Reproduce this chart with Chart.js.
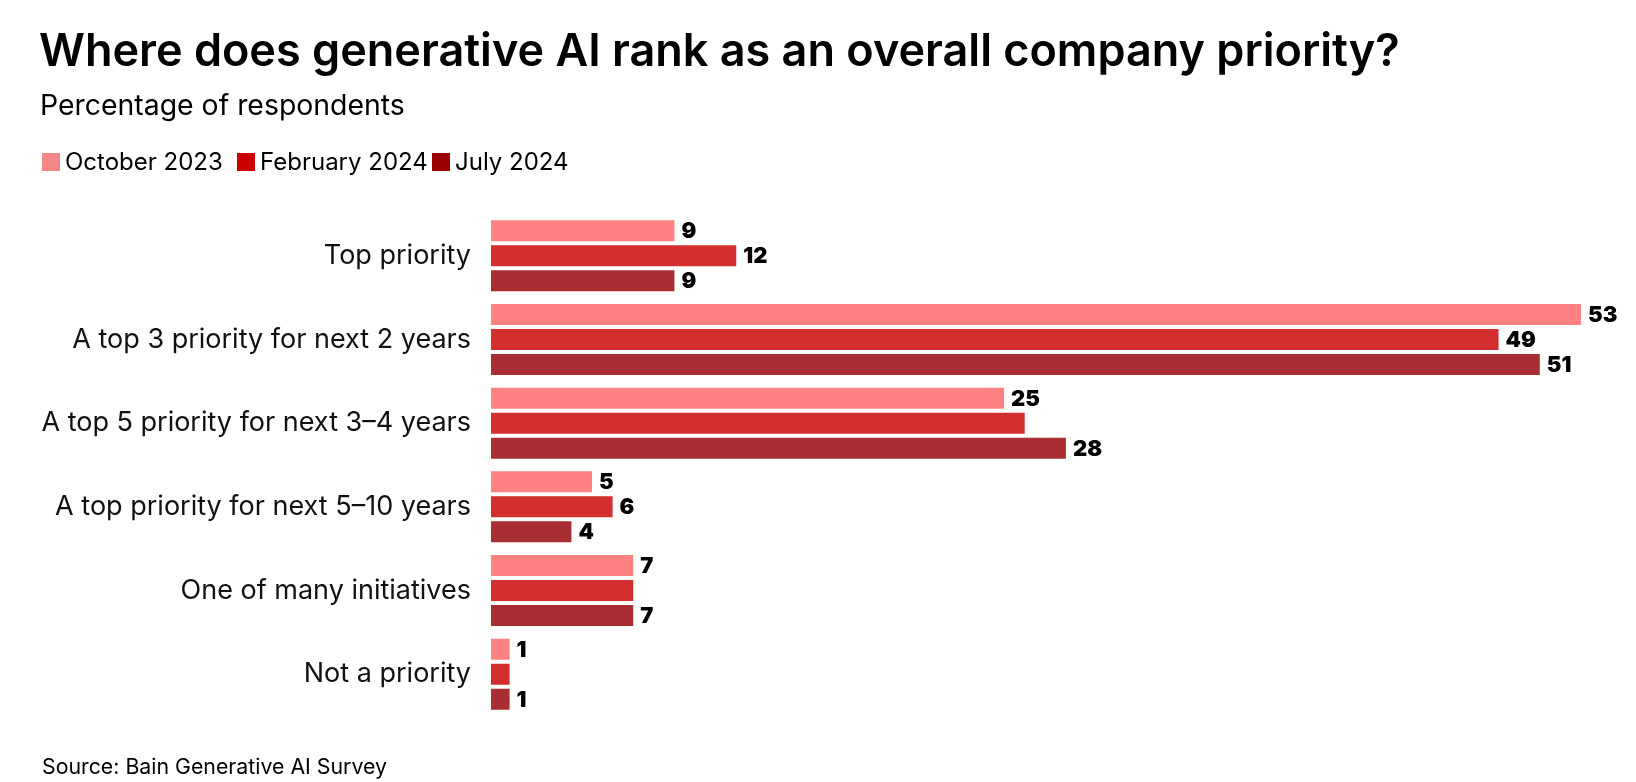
<!DOCTYPE html>
<html>
<head>
<meta charset="utf-8">
<script src="https://cdn.jsdelivr.net/npm/chart.js@4.4.1/dist/chart.umd.min.js"></script>
<style>
  html, body { margin: 0; padding: 0; background: #ffffff; }
  body { width: 1636px; height: 782px; position: relative; overflow: hidden; font-family: Inter, "Noto Sans", sans-serif; color: #000; }
  #wrap { position: absolute; left: 0; top: 0; width: 1636px; height: 782px; }
  .txt { position: absolute; white-space: nowrap; }
  #title { left: 39px; top: 27px; font-size: 45px; line-height: 45px; font-weight: 600; }
  #subtitle { left: 40px; top: 91px; font-size: 28.4px; line-height: 28.4px; font-weight: 400; }
  #legend { left: 0; top: 150px; width: 700px; height: 24px; font-size: 24px; line-height: 24px; }
  #legend .item { position: absolute; top: 0; display: flex; align-items: center; height: 24px; white-space: nowrap; }
  #legend .box { width: 18px; height: 18px; margin-right: 5px; }
  #source { left: 42px; top: 756px; font-size: 21.3px; line-height: 21.3px; }
</style>
</head>
<body>
<div id="wrap"><canvas id="c" width="1636" height="782"></canvas></div>
<div class="txt" id="title">Where does generative AI rank as an overall company priority?</div>
<div class="txt" id="subtitle">Percentage of respondents</div>
<div class="txt" id="legend"></div>
<div class="txt" id="source">Source: Bain Generative AI Survey</div>
<script>
const categories = [
  "Top priority",
  "A top 3 priority for next 2 years",
  "A top 5 priority for next 3\u20134 years",
  "A top priority for next 5\u201310 years",
  "One of many initiatives",
  "Not a priority"
];
const seriesNames = ["October 2023", "February 2024", "July 2024"];
const oct2023 = [9, 53, 25, 5, 7, 1];
const feb2024 = [12, 49, 26, 6, 7, 1];
const jul2024 = [9, 51, 28, 4, 7, 1];
// which value labels are printed in the original
const oct2023Shown = [true, true, true, true, true, true];
const feb2024Shown = [true, true, false, true, false, false];
const jul2024Shown = [true, true, true, true, true, true];
const barColors = ["#FF8282", "#D32F2F", "#A92E31"];
const legendColors = ["#F26565", "#CC0000", "#990000"];
const xMax = 53;

// HTML legend built from the series arrays
const legendLeft = [42, 237, 432];
const legendEl = document.getElementById('legend');
seriesNames.forEach((n, i) => {
  const it = document.createElement('div'); it.className = 'item';
  it.style.left = legendLeft[i] + 'px';
  const b = document.createElement('div'); b.className = 'box'; b.style.background = legendColors[i];
  if (i === 0) {
    b.style.backgroundImage = 'radial-gradient(rgba(255,255,255,0.35) 0.6px, transparent 0.9px)';
    b.style.backgroundSize = '2px 2px';
  }
  const t = document.createElement('span'); t.textContent = n;
  it.appendChild(b); it.appendChild(t); legendEl.appendChild(it);
});

const shown = [oct2023Shown, feb2024Shown, jul2024Shown];
const valueLabels = {
  id: 'valueLabels',
  afterDatasetsDraw(chart) {
    const ctx = chart.ctx;
    ctx.save();
    ctx.font = '900 22px Inter, "Noto Sans", sans-serif';
    ctx.fillStyle = '#000';
    ctx.textAlign = 'left';
    ctx.textBaseline = 'middle';
    chart.data.datasets.forEach((ds, di) => {
      const meta = chart.getDatasetMeta(di);
      meta.data.forEach((bar, i) => {
        if (!shown[di][i]) return;
        ctx.fillText(String(ds.data[i]), bar.x + 6, bar.y + 1);
      });
    });
    ctx.restore();
  }
};

new Chart(document.getElementById('c'), {
  type: 'bar',
  data: {
    labels: categories,
    datasets: [oct2023, feb2024, jul2024].map((d, i) => ({
      label: seriesNames[i],
      data: d,
      backgroundColor: barColors[i],
      borderColor: 'rgba(255,255,255,0.45)',
      borderWidth: 1,
      borderSkipped: false,
      categoryPercentage: 0.896,
      barPercentage: 0.92
    }))
  },
  options: {
    indexAxis: 'y',
    responsive: false,
    animation: false,
    layout: { padding: { top: 214, bottom: 66, right: 54, left: 0 } },
    plugins: { legend: { display: false }, tooltip: { enabled: false }, title: { display: false } },
    scales: {
      x: { display: false, min: 0, max: xMax },
      y: {
        grid: { display: false, drawTicks: false },
        border: { display: false },
        ticks: { color: '#111', padding: 19, font: { family: 'Inter, "Noto Sans", sans-serif', size: 27 } },
        afterFit(scale) { scale.width = 490; }
      }
    }
  },
  plugins: [valueLabels]
});
</script>
</body>
</html>
